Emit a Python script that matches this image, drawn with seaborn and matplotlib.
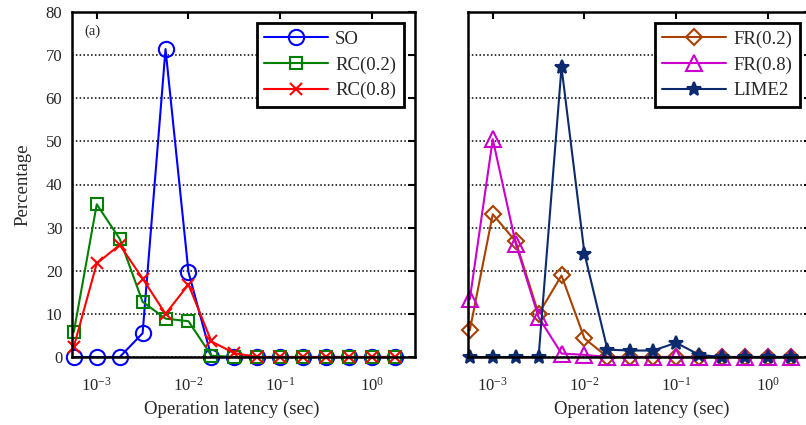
import numpy as np
import pandas as pd
import seaborn as sns
import matplotlib
matplotlib.use("Agg")
import matplotlib.pyplot as plt
from matplotlib.ticker import LogLocator, NullLocator, MultipleLocator

# latency bins (sec), quarter-decade spacing
latency = [5.62e-4, 1.0e-3, 1.78e-3, 3.16e-3, 5.62e-3, 1.0e-2, 1.78e-2,
           3.16e-2, 5.62e-2, 1.0e-1, 1.78e-1, 3.16e-1, 5.62e-1, 1.0, 1.78]

# panel (a)
so = [0, 0, 0, 5.5, 71.4, 19.7, 0, 0, 0, 0, 0, 0, 0, 0, 0]
rc02 = [5.8, 35.4, 27.4, 12.8, 8.9, 8.3, 0.3, 0, 0, 0, 0, 0, 0, 0, 0]
rc08 = [2.4, 21.7, 26.0, 18.2, 10.0, 16.8, 3.6, 0.9, 0, 0, 0, 0, 0, 0, 0]

# panel (b)
fr02 = [6.2, 33.1, 26.8, 10.0, 18.9, 4.3, 0, 0, 0, 0, 0, 0, 0, 0, 0]
fr08 = [13.4, 50.5, 26.3, 9.2, 0.8, 0.5, 0, 0, 0, 0, 0, 0, 0, 0, 0]
lime2 = [0, 0, 0, 0, 67.2, 24.0, 1.7, 1.5, 1.5, 3.3, 0.5, 0, 0, 0, 0]

yticks = [0, 10, 20, 30, 40, 50, 60, 70, 80]

sns.set_style("white")
plt.rcParams['font.family'] = ['Liberation Serif', 'DejaVu Serif']
plt.rcParams['mathtext.fontset'] = 'custom'
plt.rcParams['mathtext.rm'] = 'Liberation Serif'
plt.rcParams['mathtext.it'] = 'Liberation Serif:italic'

fig = plt.figure(figsize=(8.06, 4.25), dpi=100)
ax1 = fig.add_axes([72 / 806, 68 / 425, 343 / 806, 345 / 425])
ax2 = fig.add_axes([468 / 806, 68 / 425, 343 / 806, 345 / 425])

series_a = [
    ("SO", so, "#0000ff", "o", 11, "none"),
    ("RC(0.2)", rc02, "#008000", "s", 8.5, "none"),
    ("RC(0.8)", rc08, "#ff0000", "x", 8, None),
]
series_b = [
    ("FR(0.2)", fr02, "#a84200", "D", 8, "none"),
    ("FR(0.8)", fr08, "#cc00cc", "^", 11, "none"),
    ("LIME2", lime2, "#0c2a6e", "*", 10, None),
]

for ax, series in [(ax1, series_a), (ax2, series_b)]:
    for name, vals, col, mk, ms, mfc in series:
        df = pd.DataFrame({"latency": latency, "pct": vals})
        kw = dict(marker=mk, markersize=ms, markeredgewidth=1.5)
        kw["markerfacecolor"] = mfc if mfc is not None else col
        sns.lineplot(data=df, x="latency", y="pct", ax=ax, color=col,
                     linewidth=1.5, label=name, clip_on=False,
                     markeredgecolor=col, **kw)

    ax.set_xscale("log")
    ax.set_xlim(10 ** -3.27, 10 ** 0.47)
    ax.set_ylim(0, 80)
    ax.xaxis.set_major_locator(LogLocator(base=10, numticks=10))
    ax.xaxis.set_minor_locator(NullLocator())
    ax.yaxis.set_major_locator(MultipleLocator(10))
    ax.yaxis.grid(True, color="black", linestyle=(0, (1, 1.5)), linewidth=1.1)
    ax.set_axisbelow(True)
    ax.tick_params(axis="both", which="major", direction="in", length=5,
                   width=1.5, top=True, right=True, labelsize=12,
                   color="black")
    ax.tick_params(axis="x", pad=14)
    ax.tick_params(axis="y", pad=7)
    for s in ax.spines.values():
        s.set_visible(True)
        s.set_color("black")
        s.set_linewidth(1.8)
    ax.set_xlabel("Operation latency (sec)", fontsize=13.5)
    ax.set_ylabel("")
    leg = ax.legend(loc="upper right", fontsize=13.5, handlelength=3.4,
                    frameon=True, fancybox=False, edgecolor="black",
                    framealpha=1, borderpad=0.4, labelspacing=0.45,
                    handletextpad=0.4, borderaxespad=0.6)
    leg.get_frame().set_linewidth(2)

ax1.set_yticks(yticks)
ax2.set_yticks(yticks)
ax2.set_yticklabels([])
ax1.set_ylabel("Percentage", fontsize=13.5, labelpad=10)
ax1.xaxis.set_label_coords(0.467, -0.128)
ax2.xaxis.set_label_coords(0.507, -0.128)
ax1.text(0.035, 0.965, "(a)", transform=ax1.transAxes, fontsize=10.5,
         va="top", ha="left")

fig.savefig("out.png", dpi=100)
